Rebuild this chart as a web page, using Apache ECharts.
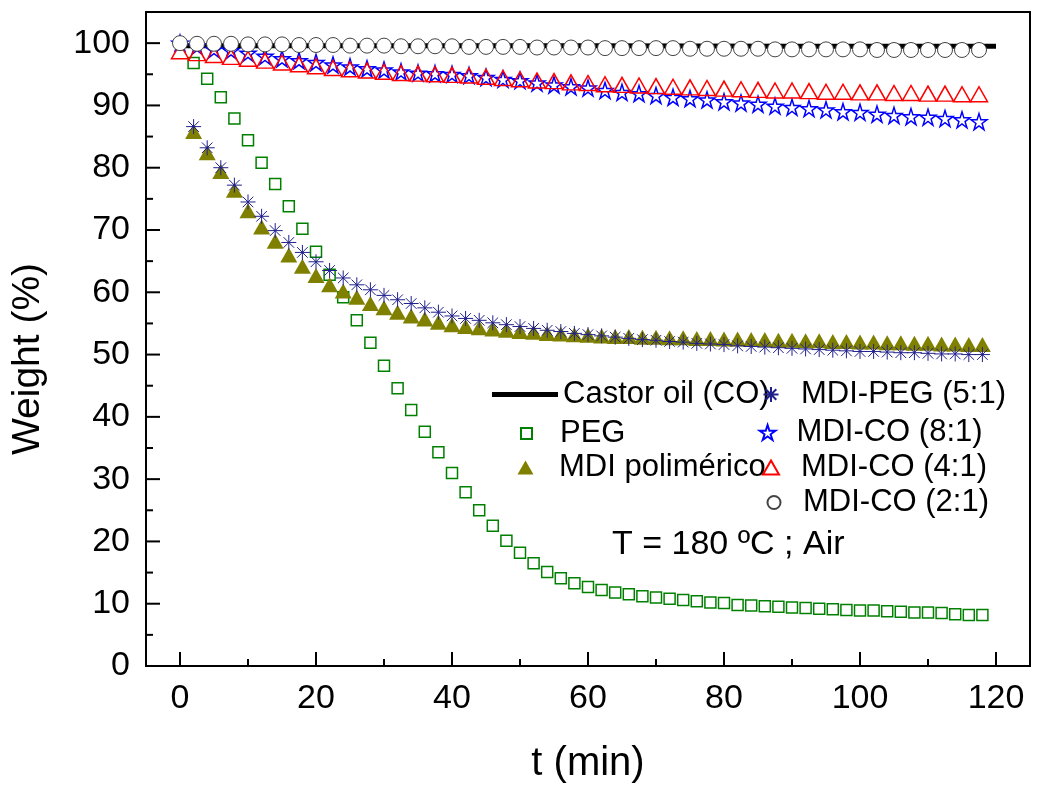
<!DOCTYPE html>
<html><head><meta charset="utf-8">
<script src="https://cdn.jsdelivr.net/npm/echarts@6/dist/echarts.min.js"></script>
<style>html,body{margin:0;padding:0;background:#fff}#c{width:1038px;height:789px}</style>
</head><body><div id="c"></div>
<script>
const FONT = '"Liberation Sans", Arial, sans-serif';

// time grids (min)
const t2 = [2,4,6,8,10,12,14,16,18,20,22,24,26,28,30,32,34,36,38,40,42,44,46,48,50,52,54,56,58,60,
  62,64,66,68,70,72,74,76,78,80,82,84,86,88,90,92,94,96,98,100,102,104,106,108,110,112,114,116,118];
const t25 = [0,2.5,5,7.5,10,12.5,15,17.5,20,22.5,25,27.5,30,32.5,35,37.5,40,42.5,45,47.5,50,52.5,55,57.5,
  60,62.5,65,67.5,70,72.5,75,77.5,80,82.5,85,87.5,90,92.5,95,97.5,100,102.5,105,107.5,110,112.5,115,117.5];
const tCastor = [0, 30, 60, 90, 120];

// series values (Weight %)
const castorOil = [99.6, 99.6, 99.6, 99.5, 99.5];
const peg = [96.8,94.3,91.3,87.9,84.4,80.8,77.4,73.8,70.2,66.5,62.8,59.2,55.5,51.9,48.2,44.6,41.1,37.6,34.3,31.0,
  27.9,25.0,22.5,20.1,18.2,16.5,15.1,14.1,13.3,12.7,12.2,11.8,11.5,11.2,11.0,10.8,10.6,10.4,10.2,10.1,
  9.8,9.7,9.6,9.5,9.4,9.3,9.2,9.1,9.0,8.9,8.9,8.8,8.7,8.6,8.6,8.5,8.3,8.2,8.2];
const mdiPolimerico = [85.8,82.4,79.4,76.4,73.1,70.5,68.2,66.0,64.2,62.7,61.2,60.2,59.2,58.2,57.5,56.8,56.2,55.7,55.2,
  54.8,54.5,54.3,54.1,53.9,53.7,53.6,53.4,53.3,53.2,53.1,53.0,52.9,52.9,52.8,52.8,52.7,52.7,52.6,52.6,
  52.5,52.5,52.4,52.4,52.3,52.3,52.2,52.2,52.1,52.1,52.0,52.0,51.9,51.9,51.8,51.8,51.7,51.7,51.6,51.6];
const mdiPeg51 = [86.6,83.2,80.0,77.2,74.5,72.2,69.9,68.0,66.4,64.9,63.5,62.3,61.2,60.4,59.5,58.8,58.2,57.5,56.8,
  56.2,55.8,55.5,55.1,54.8,54.5,54.2,53.9,53.7,53.4,53.2,53.0,52.8,52.6,52.4,52.3,52.1,52.0,51.8,51.7,
  51.6,51.4,51.3,51.2,51.1,51.0,50.9,50.8,50.7,50.6,50.5,50.5,50.4,50.3,50.3,50.2,50.1,50.1,50.0,50.0];
const mdiCo81 = [100.0,99.5,99.0,98.8,98.4,97.9,97.5,97.2,96.9,96.5,96.2,95.9,95.7,95.4,95.2,95.1,95.0,94.8,
  94.5,94.2,94.0,93.6,93.3,93.0,92.8,92.4,92.1,91.9,91.6,91.3,91.1,90.9,90.6,90.4,90.2,89.9,89.7,89.5,
  89.3,89.0,88.9,88.6,88.4,88.2,88.1,87.9,87.7,87.4];
const mdiCo41 = [98.7,98.4,98.1,97.8,97.5,97.2,96.9,96.6,96.3,96.0,95.8,95.6,95.4,95.2,95.1,95.0,94.9,94.8,
  94.6,94.4,94.2,94.0,93.9,93.7,93.6,93.4,93.3,93.2,93.1,93.0,92.9,92.8,92.7,92.6,92.5,92.4,92.4,92.3,
  92.2,92.2,92.1,92.1,92.0,92.0,91.9,91.9,91.8,91.8];
const mdiCo21 = [100.0,99.9,99.9,99.9,99.8,99.8,99.8,99.7,99.7,99.7,99.6,99.6,99.6,99.5,99.5,99.5,99.5,99.4,
  99.4,99.4,99.4,99.3,99.3,99.3,99.3,99.2,99.2,99.2,99.2,99.2,99.1,99.1,99.1,99.1,99.1,99.0,99.0,99.0,
  99.0,99.0,99.0,98.9,98.9,98.9,98.9,98.9,98.9,98.9];

// axis ranges and ticks
const X_MIN = -5, X_MAX = 125, Y_MIN = 0, Y_MAX = 105;
const xMajor = [0, 20, 40, 60, 80, 100, 120];
const xMinor = [10, 30, 50, 70, 90, 110];
const yMajor = [0, 10, 20, 30, 40, 50, 60, 70, 80, 90, 100];
const yMinor = [5, 15, 25, 35, 45, 55, 65, 75, 85, 95];
const MAJOR_LEN = 14, MINOR_LEN = 7;

const pairs = (xs, ys) => xs.map((x, i) => [x, ys[i]]);

const STAR = 'path://M10 0L12.245 6.91L19.511 6.91L13.633 11.18L15.878 18.09L10 13.82L4.122 18.09L6.367 11.18L0.489 6.91L7.755 6.91Z';
const ASTER = 'path://M10 0L10 20M0 10L20 10M2.93 2.93L17.07 17.07M17.07 2.93L2.93 17.07';
const SQUARE = 'path://M0 0L10 0L10 10L0 10Z';
const TRI = 'path://M8 0L16 14L0 14Z';

const noLine = { show: false, onZero: false };
const legendText = { fontSize: 31, color: '#000', fontFamily: FONT };
function oneLegend(name, icon, left, cy, w, h) {
  return { data: [name], icon: icon, left: left, top: cy - 13, itemWidth: w, itemHeight: h,
    selectedMode: false, textStyle: legendText, padding: 0 };
}

// inward tick marks drawn through the axes' own scales (own layer, on top)
const xTickData = xMinor.map(v => [v, MINOR_LEN]).concat(xMajor.map(v => [v, MAJOR_LEN]));
const yTickData = yMinor.map(v => [MINOR_LEN, v]).concat(yMajor.map(v => [MAJOR_LEN, v]));

const chart = echarts.init(document.getElementById('c'), null, { renderer: 'canvas' });
chart.setOption({
  backgroundColor: '#fff',
  animation: false,
  textStyle: { fontFamily: FONT },
  grid: { left: 146, right: 8, top: 12, bottom: 122, show: true, borderColor: '#000', borderWidth: 2, backgroundColor: 'transparent' },
  xAxis: {
    type: 'value', min: X_MIN, max: X_MAX, position: 'bottom',
    axisLine: noLine, splitLine: { show: false }, axisTick: { show: false },
    axisLabel: { customValues: xMajor.slice(), fontSize: 34, color: '#000', margin: 16, fontFamily: FONT },
    name: 't (min)', nameLocation: 'middle', nameGap: 78,
    nameTextStyle: { fontSize: 40, color: '#000', fontFamily: FONT }
  },
  yAxis: {
    type: 'value', min: Y_MIN, max: Y_MAX, position: 'left',
    axisLine: noLine, splitLine: { show: false }, axisTick: { show: false },
    axisLabel: { customValues: yMajor.slice(), fontSize: 34, color: '#000', margin: 16, fontFamily: FONT },
    name: 'Weight (%)', nameLocation: 'middle', nameGap: 98,
    nameTextStyle: { fontSize: 39, color: '#000', fontFamily: FONT, padding: [0, 40, 0, 0] }
  },
  legend: [
    oneLegend('Castor oil (CO)', 'rect', 492, 392, 66, 5),
    oneLegend('PEG', SQUARE, 520, 431, 57, 11),
    oneLegend('MDI polimérico', TRI, 517.5, 465, 57, 14),
    oneLegend('MDI-PEG (5:1)', ASTER, 762.5, 392, 50, 15),
    oneLegend('MDI-CO (8:1)', STAR, 758.7, 430, 48, 15),
    oneLegend('MDI-CO (4:1)', TRI, 762, 465, 50, 14),
    oneLegend('MDI-CO (2:1)', 'circle', 766.5, 500, 48, 13)
  ],
  graphic: [
    { type: 'text', left: 612, top: 528,
      style: { text: 'T = 180 ºC ; Air', font: '34px "Liberation Sans", Arial, sans-serif', fill: '#000' } }
  ],
  series: [
    { name: 'xTicks', type: 'custom', silent: true, clip: false, zlevel: 1, z: 100, data: xTickData,
      renderItem: (params, api) => {
        const p = api.coord([api.value(0), Y_MIN]);
        return { type: 'line', shape: { x1: p[0], y1: p[1], x2: p[0], y2: p[1] - api.value(1) },
          style: { stroke: '#000', lineWidth: 2 } };
      } },
    { name: 'yTicks', type: 'custom', silent: true, clip: false, zlevel: 1, z: 100, data: yTickData,
      renderItem: (params, api) => {
        const p = api.coord([X_MIN, api.value(1)]);
        return { type: 'line', shape: { x1: p[0], y1: p[1], x2: p[0] + api.value(0), y2: p[1] },
          style: { stroke: '#000', lineWidth: 2 } };
      } },
    { name: 'Castor oil (CO)', type: 'line', data: pairs(tCastor, castorOil), symbol: 'none',
      lineStyle: { color: '#000', width: 5 }, itemStyle: { color: '#000' }, z: 2 },
    { name: 'PEG', type: 'scatter', data: pairs(t2, peg), symbol: 'rect', symbolSize: 11,
      itemStyle: { color: 'rgba(255,255,255,0)', borderColor: '#008000', borderWidth: 1.5, opacity: 1 }, z: 3 },
    { name: 'MDI polimérico', type: 'scatter', data: pairs(t2, mdiPolimerico), symbol: 'triangle', symbolSize: [17, 15],
      itemStyle: { color: '#808000', opacity: 1 }, z: 3 },
    { name: 'MDI-PEG (5:1)', type: 'scatter', data: pairs(t2, mdiPeg51), symbol: ASTER, symbolSize: 15,
      itemStyle: { color: 'rgba(0,0,0,0)', borderColor: '#20208c', borderWidth: 1, opacity: 1 }, z: 4 },
    { name: 'MDI-CO (8:1)', type: 'scatter', data: pairs(t25, mdiCo81), symbol: STAR, symbolSize: 16,
      itemStyle: { color: 'rgba(255,255,255,0)', borderColor: '#0000ff', borderWidth: 1.5, opacity: 1 }, z: 4 },
    { name: 'MDI-CO (4:1)', type: 'scatter', data: pairs(t25, mdiCo41), symbol: 'triangle', symbolSize: [17, 15],
      itemStyle: { color: 'rgba(255,255,255,0)', borderColor: '#ff0000', borderWidth: 1.5, opacity: 1 }, z: 4 },
    { name: 'MDI-CO (2:1)', type: 'scatter', data: pairs(t25, mdiCo21), symbol: 'circle', symbolSize: 15,
      itemStyle: { color: '#fff', borderColor: '#444', borderWidth: 1, opacity: 1 }, z: 5 }
  ]
});
</script>
</body></html>
